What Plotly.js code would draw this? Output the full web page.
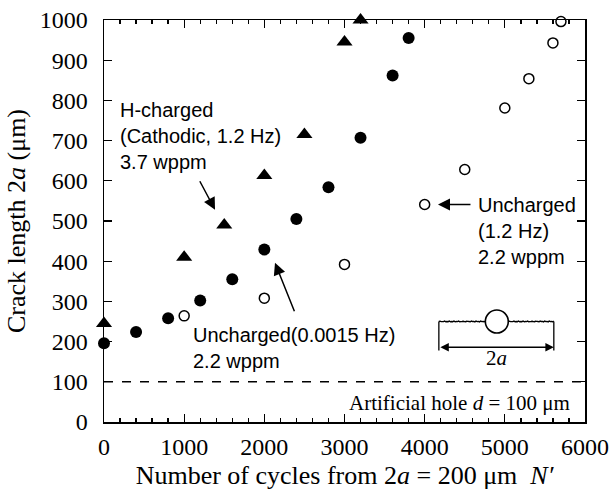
<!DOCTYPE html>
<html>
<head>
<meta charset="utf-8">
<script src="https://cdn.plot.ly/plotly-3.0.1.min.js"></script>
<style>html,body{margin:0;padding:0;background:#fff;}</style>
</head>
<body>
<div id="chart" style="width:613px;height:491px;"></div>
<script>
// H-charged (Cathodic, 1.2 Hz), 3.7 wppm
const hChargedX = [0, 1000, 1500, 2000, 2500, 3000, 3200];
const hChargedY = [245, 410, 490, 613, 715, 945, 1000];
// Uncharged (0.0015 Hz), 2.2 wppm
const slowX = [0, 400, 800, 1200, 1600, 2000, 2400, 2800, 3200, 3600, 3800];
const slowY = [196, 224, 258, 302, 355, 429, 505, 584, 707, 862, 955];
// Uncharged (1.2 Hz), 2.2 wppm
const fastX = [1000, 2000, 3000, 4000, 4500, 5000, 5300, 5600, 5700];
const fastY = [264, 308, 392, 541, 628, 781, 854, 943, 996];
// artificial hole diameter
const holeD = 100;

const serif = "Liberation Serif, Times New Roman, serif";
const sans = "Liberation Sans, Arial, sans-serif";

const traces = [
  {x: hChargedX, y: hChargedY, type: 'scatter', mode: 'markers', cliponaxis: false,
   marker: {symbol: 'triangle-up', size: 14, color: '#000'}},
  {x: slowX, y: slowY, type: 'scatter', mode: 'markers', cliponaxis: false,
   marker: {symbol: 'circle', size: 12, color: '#000'}},
  {x: fastX, y: fastY, type: 'scatter', mode: 'markers', cliponaxis: false,
   marker: {symbol: 'circle-open', size: 10, color: '#000', line: {width: 1.5, color: '#000'}}}
];

// inset sketch (crack with hole)
const insL = 4177, insR = 5611, insC = 4900, insY = 250, rX = 143, rY = 28.6;
function wavy(x0, x1) {
  let p = 'M' + x0 + ',' + insY;
  const n = 40;
  for (let i = 1; i <= n; i++) {
    const xx = x0 + (x1 - x0) * i / n;
    const yy = insY + 1.3 * Math.sin(i * 2.3) * Math.cos(i * 0.7);
    p += ' L' + xx.toFixed(1) + ',' + yy.toFixed(2);
  }
  return p;
}

const shapes = [
  {type: 'line', xref: 'x', yref: 'y', x0: 0, x1: 6000, y0: holeD, y1: holeD,
   line: {color: '#000', width: 1.5, dash: 'dash'}},
  {type: 'path', xref: 'x', yref: 'y', path: wavy(insL, insC - rX), line: {color: '#000', width: 1.4}},
  {type: 'path', xref: 'x', yref: 'y', path: wavy(insC + rX, insR), line: {color: '#000', width: 1.4}},
  {type: 'circle', xref: 'x', yref: 'y', x0: insC - rX, x1: insC + rX, y0: insY - rY, y1: insY + rY,
   fillcolor: '#fff', line: {color: '#000', width: 1.6}},
  {type: 'line', xref: 'x', yref: 'y', x0: insL, x1: insL, y0: insY, y1: 178, line: {color: '#000', width: 1.3}},
  {type: 'line', xref: 'x', yref: 'y', x0: insR, x1: insR, y0: insY, y1: 178, line: {color: '#000', width: 1.3}}
];

const annotations = [
  {x: 175, y: 712, xref: 'x', yref: 'y', xanchor: 'left', yanchor: 'middle', align: 'left', showarrow: false,
   text: 'H-charged<br>(Cathodic, 1.2 Hz)<br>3.7 wppm', font: {family: sans, size: 20, color: '#000'}},
  {x: 1385, y: 528, xref: 'x', yref: 'y', text: '', showarrow: true, ax: -16, ay: -30,
   arrowhead: 2, arrowsize: 1.6, arrowwidth: 1.5, arrowcolor: '#000'},
  {x: 1085, y: 185, xref: 'x', yref: 'y', xanchor: 'left', yanchor: 'middle', align: 'left', showarrow: false,
   text: 'Uncharged(0.0015 Hz)<br>2.2 wppm', font: {family: sans, size: 20, color: '#000'}},
  {x: 2133, y: 396, xref: 'x', yref: 'y', text: '', showarrow: true, ax: 20, ay: 50,
   arrowhead: 2, arrowsize: 1.6, arrowwidth: 1.5, arrowcolor: '#000'},
  {x: 4640, y: 474, xref: 'x', yref: 'y', xanchor: 'left', yanchor: 'middle', align: 'left', showarrow: false,
   text: 'Uncharged<br>(1.2 Hz)<br>2.2 wppm', font: {family: sans, size: 20, color: '#000'}},
  {x: 4166, y: 541, xref: 'x', yref: 'y', text: '', showarrow: true, ax: 34, ay: 0,
   arrowhead: 2, arrowsize: 1.6, arrowwidth: 1.5, arrowcolor: '#000'},
  {x: 5838, y: 48, xref: 'x', yref: 'y', xanchor: 'right', yanchor: 'middle', showarrow: false,
   text: 'Artificial hole <i>d</i> = 100 μm', font: {family: serif, size: 21, color: '#000'}},
  {x: insR, y: 186, xref: 'x', yref: 'y', axref: 'x', ayref: 'y', ax: insL, ay: 186, text: '',
   showarrow: true, arrowside: 'end+start', arrowhead: 2, arrowsize: 1.3, arrowwidth: 1.3, arrowcolor: '#000'},
  {x: insC, y: 158, xref: 'x', yref: 'y', showarrow: false, text: '2<i>a</i>',
   font: {family: serif, size: 21, color: '#000'}}
];

const layout = {
  width: 613, height: 491,
  margin: {l: 104, r: 28, t: 20, b: 69},
  paper_bgcolor: '#fff', plot_bgcolor: '#fff',
  showlegend: false,
  xaxis: {
    range: [0, 6000], dtick: 1000, tick0: 0, ticks: 'inside', ticklen: 8, tickwidth: 1.3, tickcolor: '#000',
    minor: {dtick: 200, ticks: 'inside', ticklen: 4, tickwidth: 1.3, tickcolor: '#000'},
    showline: true, linecolor: '#000', linewidth: 1.5, mirror: 'allticks', showgrid: false, zeroline: false,
    tickfont: {family: serif, size: 24, color: '#000'}, ticklabelstandoff: 3,
    title: {text: 'Number of cycles from 2<i>a</i> = 200 μm  <i>N′</i>', font: {family: serif, size: 26, color: '#000'}, standoff: 6}
  },
  yaxis: {
    range: [0, 1000], dtick: 100, tick0: 0, ticks: 'inside', ticklen: 8, tickwidth: 1.3, tickcolor: '#000',
    showline: true, linecolor: '#000', linewidth: 1.5, mirror: 'allticks', showgrid: false, zeroline: false,
    tickfont: {family: serif, size: 24, color: '#000'}, ticklabelstandoff: 10,
    title: {text: 'Crack length 2<i>a</i> (μm)', font: {family: serif, size: 26, color: '#000'}, standoff: 6}
  },
  shapes: shapes,
  annotations: annotations
};

Plotly.newPlot('chart', traces, layout, {staticPlot: true, displayModeBar: false});
</script>
</body>
</html>
